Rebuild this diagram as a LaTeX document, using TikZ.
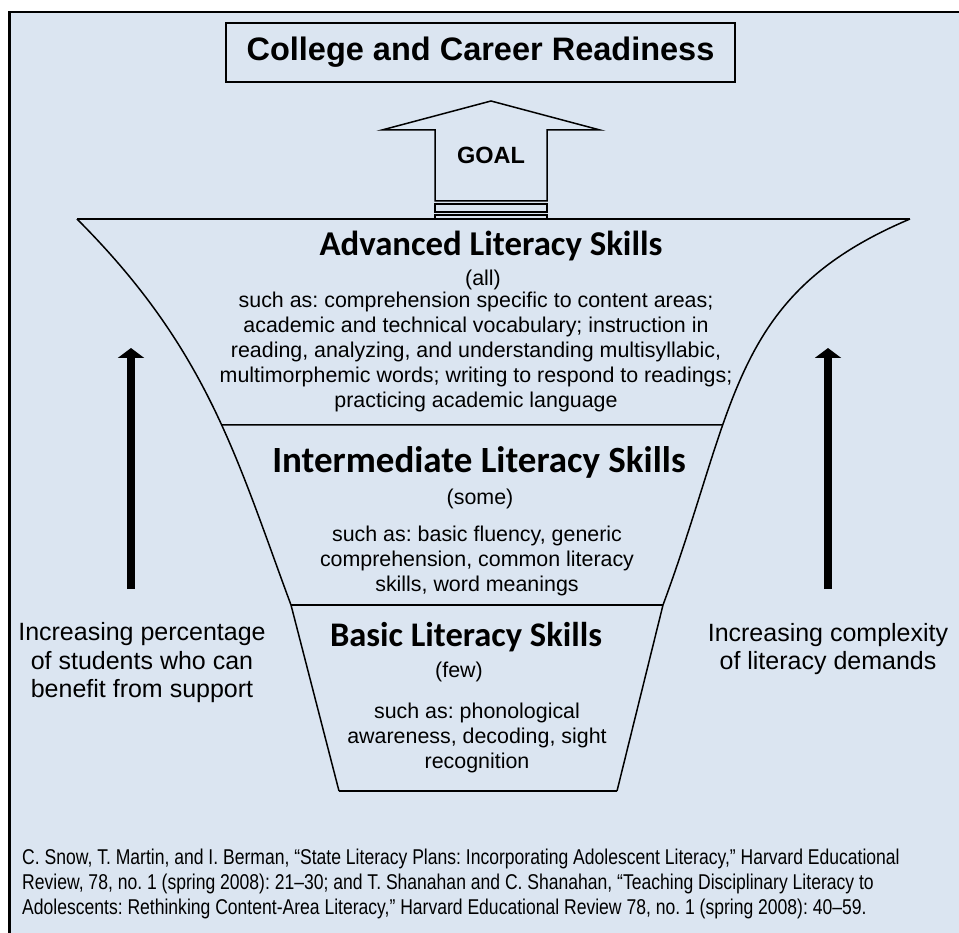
\documentclass[tikz,border=0pt]{standalone}
\usepackage{fontspec}
\setmainfont{Liberation Sans}
\newfontfamily\headfont{Carlito}
\newfontfamily\narrowfont[FakeStretch=0.82]{Liberation Sans}
\usetikzlibrary{arrows.meta,intersections}
\definecolor{panelblue}{RGB}{219,229,241}
\frenchspacing

\begin{document}
\begin{tikzpicture}[x=1pt,y=-1pt,
    every node/.style={inner sep=0pt},
    skillhead/.style={font={\headfont\bfseries\fontsize{34.8}{40}\selectfont}},
    skillnote/.style={font={\fontsize{21.4}{25}\selectfont}, align=center},
    sidenote/.style={font={\fontsize{25}{28.5}\selectfont}, align=center},
    risearrow/.style={line width=7.5pt, -{Triangle[length=10pt,width=26pt]}},
    funnel/.style={line width=1.5pt}]
    \useasboundingbox (0,0) rectangle (959,933);
    \clip (0,0) rectangle (959,933);
    \fill[white]                                               (0,0)      rectangle (959,933);
    \filldraw[fill=panelblue, draw=black, line width=2.7pt]    (9.3,12)   rectangle (975,950);

    % goal at the top
    \node[draw, line width=2pt, minimum width=509pt, minimum height=59pt,
          font={\bfseries\fontsize{32.5}{38}\selectfont}] (ready) at (480.5,52.5) {College and Career Readiness};
    \draw[line width=1.5pt] (435,201) -- (435,130) -- (382,130) -- (491,101)
                            -- (600,130) -- (547,130) -- (547,201) -- cycle;
    \node[font={\bfseries\fontsize{23.5}{28}\selectfont}] (goal) at (491,155.5) {GOAL};
    \draw[line width=1.5pt] (435,204) rectangle (547,212);
    \draw[line width=1.5pt] (435,215) rectangle (547,219);

    % funnel
    \draw[funnel, name path=leftside]  (77,219)  .. controls (207,349) and (235.5,455) .. (291,605) -- (339,791);
    \draw[funnel, name path=rightside] (910,219) .. controls (730,295) and (737,405)   .. (663,605) -- (617,791);
    \draw[funnel] (77,219)  -- (910,219);
    \draw[funnel] (291,605) -- (663,605);
    \draw[funnel] (339,791) -- (617,791);
    \path[name path=cutA] (0,425) -- (959,425);
    \path[name intersections={of=leftside and cutA, by={divAl}}];
    \path[name intersections={of=rightside and cutA, by={divAr}}];
    \draw[funnel] (divAl) -- (divAr);

    % advanced
    \node[skillhead] (advhead) at (491,246) {Advanced Literacy Skills};
    \node[skillnote] (advshare) at (483,280) {(all)};
    \node[skillnote] (advlist) at (476,352) {such as: comprehension specific to content areas;\\
        academic and technical vocabulary; instruction in\\
        reading, analyzing, and understanding multisyllabic,\\
        multimorphemic words; writing to respond to readings;\\
        practicing academic language};

    % intermediate
    \node[skillhead, font={\headfont\bfseries\fontsize{37}{42}\selectfont}] (midhead) at (479,462) {Intermediate Literacy Skills};
    \node[skillnote] (midshare) at (480,499) {(some)};
    \node[skillnote] (midlist) at (477,561) {such as: basic fluency, generic\\
        comprehension, common literacy\\
        skills, word meanings};

    % basic
    \node[skillhead, font={\headfont\bfseries\fontsize{34.5}{40}\selectfont}] (bashead) at (466,637) {Basic Literacy Skills};
    \node[skillnote] (basshare) at (459,672) {(few)};
    \node[skillnote] (baslist) at (477,738) {such as: phonological\\
        awareness, decoding, sight\\
        recognition};

    % side arrows
    \coordinate (lfoot) at (131,589);
    \coordinate (ltip)  at (131,348);
    \coordinate (rfoot) at (828,589);
    \coordinate (rtip)  at (828,348);
    \draw[risearrow] (lfoot) -- (ltip);
    \draw[risearrow] (rfoot) -- (rtip);
    \node[sidenote] (leftnote)  at (142,663) {Increasing percentage\\of students who can\\benefit from support};
    \node[sidenote] (rightnote) at (828,649) {Increasing complexity\\of literacy demands};

    % source
    \node[anchor=west, align=left, font={\narrowfont\fontsize{21.4}{25}\selectfont}] (source) at (22,884)
        {C. Snow, T. Martin, and I. Berman, “State Literacy Plans: Incorporating Adolescent Literacy,” Harvard Educational\\
         Review, 78, no. 1 (spring 2008): 21–30; and T. Shanahan and C. Shanahan, “Teaching Disciplinary Literacy to\\
         Adolescents: Rethinking Content-Area Literacy,” Harvard Educational Review 78, no. 1 (spring 2008): 40–59.};
\end{tikzpicture}
\end{document}
